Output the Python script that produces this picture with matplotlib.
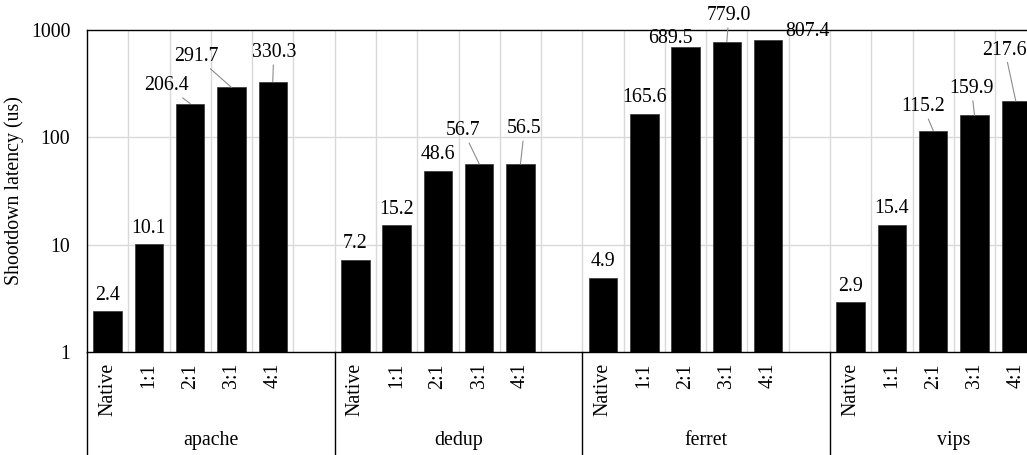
import matplotlib

matplotlib.use("Agg")
import matplotlib.pyplot as plt
import matplotlib.transforms as mtransforms

groups = ["apache", "dedup", "ferret", "vips"]
configs = ["Native", "1:1", "2:1", "3:1", "4:1"]

apache = [2.4, 10.1, 206.4, 291.7, 330.3]
dedup = [7.2, 15.2, 48.6, 56.7, 56.5]
ferret = [4.9, 165.6, 689.5, 779.0, 807.4]
vips = [2.9, 15.4, 115.2, 159.9, 217.6]
series = [apache, dedup, ferret, vips]

# label placement (pixel offsets from the bar top) for labels moved off the default spot
DEFAULT_OFFSET = (0, 16)
moved_labels = {
    (0, 2): (-24, 18, True),
    (0, 3): (-35, 31, True),
    (0, 4): (1, 29, True),
    (1, 3): (-16, 33, True),
    (1, 4): (4, 35, True),
    (2, 2): (-15, 9, False),
    (2, 3): (2, 26, True),
    (2, 4): (39, 8, False),
    (3, 2): (-10, 24, True),
    (3, 3): (-3, 27, True),
    (3, 4): (-11, 51, True),
}

plt.rcParams["font.family"] = ["Liberation Serif", "DejaVu Serif"]
plt.rcParams["font.size"] = 14.3

fig = plt.figure(figsize=(10.27, 4.55), dpi=100)
slots = len(configs) + 1
ax = fig.add_axes([87 / 1027, 103 / 455, slots * len(groups) * 41.28 / 1027, 322 / 455])
ax.set_yscale("log")
ax.set_ylim(1, 1000)
ax.set_xlim(-0.5, slots * len(groups) - 0.5)

grid_color = "#d9d9d9"
for k in range(1, slots * len(groups)):
    ax.axvline(k - 0.5, color=grid_color, lw=1, zorder=0)
for y in [10, 100]:
    ax.axhline(y, color=grid_color, lw=1, zorder=0)

tick_pos = []
tick_lab = []
for g, values in enumerate(series):
    xs = [g * slots + i for i in range(len(values))]
    ax.bar(xs, values, width=0.69, color="black", edgecolor="#333333", lw=0.5, zorder=2)
    tick_pos += xs
    tick_lab += configs
    for i, (x, v) in enumerate(zip(xs, values)):
        dx, dy, leader = moved_labels.get((g, i), (*DEFAULT_OFFSET, False))
        arrow = None
        if leader:
            arrow = dict(arrowstyle="-", color="#8c8c8c", lw=0.8, shrinkA=0, shrinkB=0)
        ax.annotate(f"{v:.1f}", xy=(x, v), xytext=(dx, dy), textcoords="offset pixels",
                    ha="center", va="center", arrowprops=arrow, annotation_clip=False, zorder=3)

ax.set_xticks(tick_pos, tick_lab, rotation=90)
ax.set_yticks([1, 10, 100, 1000], ["1", "10", "100", "1000"])
ax.minorticks_off()
ax.tick_params(axis="x", length=0, pad=8)
ax.tick_params(axis="y", length=0, pad=12)
ax.set_ylabel("Shootdown latency (us)", labelpad=5)

for side in ["left", "bottom", "top", "right"]:
    ax.spines[side].set_color("black")
    ax.spines[side].set_linewidth(1)

# group names and separators below the axis
trans = mtransforms.blended_transform_factory(ax.transData, ax.transAxes)
for g, name in enumerate(groups):
    ax.text(g * slots + (slots - 1) / 2, -0.276, name, transform=trans, ha="center", va="center")
for g in range(len(groups) + 1):
    ax.plot([g * slots - 0.5] * 2, [0, -0.35], transform=trans, color="black", lw=1, clip_on=False)

fig.savefig("out.png", dpi=100)
